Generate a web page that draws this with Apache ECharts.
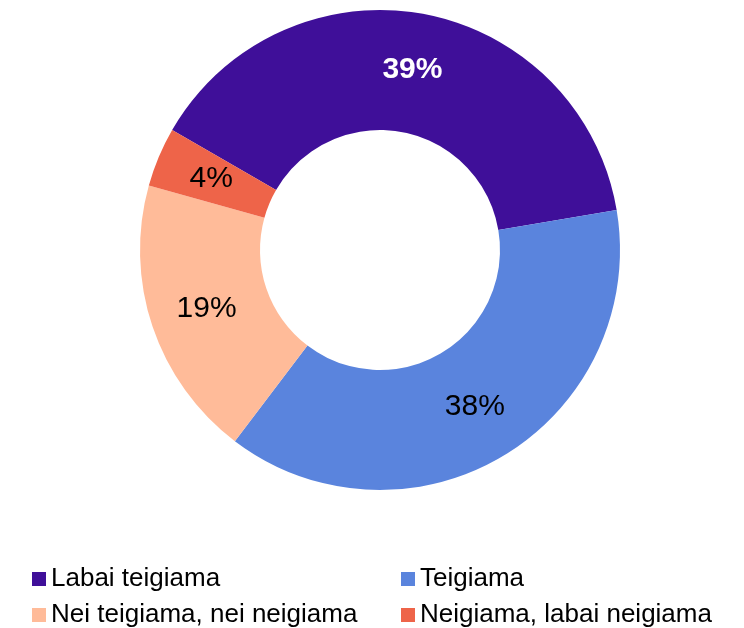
<!DOCTYPE html>
<html lang="lv">
<head>
<meta charset="UTF-8">
<title>Donut</title>
<script src="https://cdn.jsdelivr.net/npm/echarts@6/dist/echarts.min.js"></script>
<style>
  html, body { margin: 0; padding: 0; background: #fff; }
  #chart { width: 744px; height: 628px; }
</style>
</head>
<body>
<div id="chart"></div>
<script>
var categories = ['Labai teigiama', 'Teigiama', 'Nei teigiama, nei neigiama', 'Neigiama, labai neigiama'];
var values = [39, 38, 19, 4];
var colors = ['#3f0f99', '#5a84dd', '#ffbb99', '#ee6449'];

// legend slot for each category: [left, top]
var legendPos = [[32, 566], [401, 566], [32, 602], [401, 602]];

var chart = echarts.init(document.getElementById('chart'));

var data = categories.map(function (name, i) {
    var item = { name: name, value: values[i], itemStyle: { color: colors[i] } };
    if (i === 0) {
        item.label = { color: '#fff', fontWeight: 'bold' };
    }
    return item;
});

var legends = categories.map(function (name, i) {
    return {
        left: legendPos[i][0],
        top: legendPos[i][1],
        padding: 0,
        itemWidth: 14, itemHeight: 14,
        icon: 'rect',
        textStyle: { fontFamily: 'Liberation Sans, Arial, sans-serif', fontSize: 26, color: '#000', lineHeight: 26 },
        data: [name]
    };
});

var option = {
    backgroundColor: '#fff',
    animation: false,
    legend: legends,
    series: [
        {
            type: 'pie',
            center: [380, 250],
            radius: [120, 240],
            startAngle: 150,
            clockwise: true,
            avoidLabelOverlap: false,
            label: {
                position: 'inside',
                formatter: '{c}%',
                fontFamily: 'Liberation Sans, Arial, sans-serif',
                fontSize: 30,
                color: '#000',
                padding: [6, 0, 0, 0]
            },
            labelLine: { show: false },
            emphasis: { disabled: true },
            data: data
        }
    ]
};
chart.setOption(option);
</script>
</body>
</html>
